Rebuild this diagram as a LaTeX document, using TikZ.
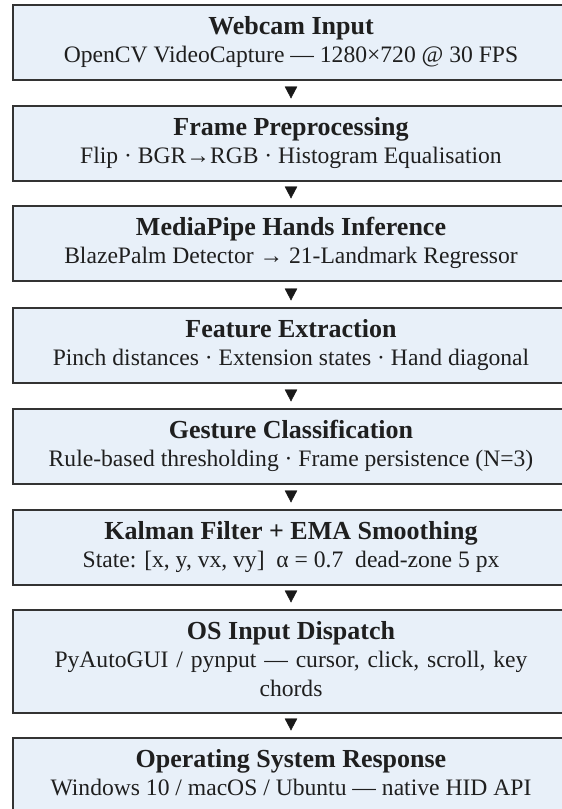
\documentclass[tikz,border=0pt]{standalone}
\usepackage{fontspec}
\setmainfont{Liberation Serif}
\usetikzlibrary{arrows.meta}
\definecolor{boxfill}{HTML}{E8F0F9}
\definecolor{boxline}{HTML}{333333}
\tikzset{
  stepbox/.style={rectangle, draw=boxline, fill=boxfill, line width=2pt,
    minimum width=556pt, minimum height=75pt, inner sep=0pt, anchor=north},
  ttl/.style={font=\fontsize{26}{28}\selectfont\bfseries, inner sep=0pt, anchor=base, text=black!88},
  sub/.style={font=\fontsize{23.6}{29}\selectfont, inner sep=0pt, anchor=base, text=black!88},
  flow/.style={draw=black!90, fill=black!90, line width=0.4pt,
    -{Triangle[width=12.5pt,length=12pt]}, shorten <=6.5pt, shorten >=6.5pt}
}
\begin{document}
\begin{tikzpicture}[x=1pt,y=-1pt]
\useasboundingbox (0,0) rectangle (562,809);
\begin{scope}
\clip (0,0) rectangle (562,809);
\node[stepbox] (b1) at (291,4) {};
\node[stepbox] (b2) at (291,105) {};
\node[stepbox] (b3) at (291,205) {};
\node[stepbox] (b4) at (291,307) {};
\node[stepbox] (b5) at (291,408) {};
\node[stepbox] (b6) at (291,509) {};
\node[stepbox, minimum height=103pt] (b7) at (291,609) {};
\node[stepbox] (b8) at (291,737) {};

\node[ttl] (t1) at (291,34) {Webcam Input};
\node[sub] (s1) at (291,62) {OpenCV VideoCapture — 1280×720 @ 30 FPS};
\node[ttl] (t2) at (291,135) {Frame Preprocessing};
\node[sub] (s2) at (291,163) {Flip · BGR→RGB · Histogram Equalisation};
\node[ttl] (t3) at (291,235) {MediaPipe Hands Inference};
\node[sub] (s3) at (291,263) {BlazePalm Detector → 21-Landmark Regressor};
\node[ttl] (t4) at (291,337) {Feature Extraction};
\node[sub] (s4) at (291,365) {Pinch distances · Extension states · Hand diagonal};
\node[ttl] (t5) at (291,438) {Gesture Classification};
\node[sub] (s5) at (291,466) {Rule-based thresholding · Frame persistence (N=3)};
\node[ttl] (t6) at (291,539) {Kalman Filter + EMA Smoothing};
\node[sub] (s6) at (291,567) {State: [x, y, vx, vy]\ \ α = 0.7\ \ dead-zone 5 px};
\node[ttl] (t7) at (291,639) {OS Input Dispatch};
\node[sub, text width=520pt, align=center] (s7) at (291,667) {PyAutoGUI / pynput — cursor, click, scroll, key\\chords};
\node[ttl] (t8) at (291,767) {Operating System Response};
\node[sub] (s8) at (291,795) {Windows 10 / macOS / Ubuntu — native HID API};
\end{scope}
\draw[flow] (b1.south) -- (b2.north);
\draw[flow] (b2.south) -- (b3.north);
\draw[flow] (b3.south) -- (b4.north);
\draw[flow] (b4.south) -- (b5.north);
\draw[flow] (b5.south) -- (b6.north);
\draw[flow] (b6.south) -- (b7.north);
\draw[flow] (b7.south) -- (b8.north);
\end{tikzpicture}
\end{document}
